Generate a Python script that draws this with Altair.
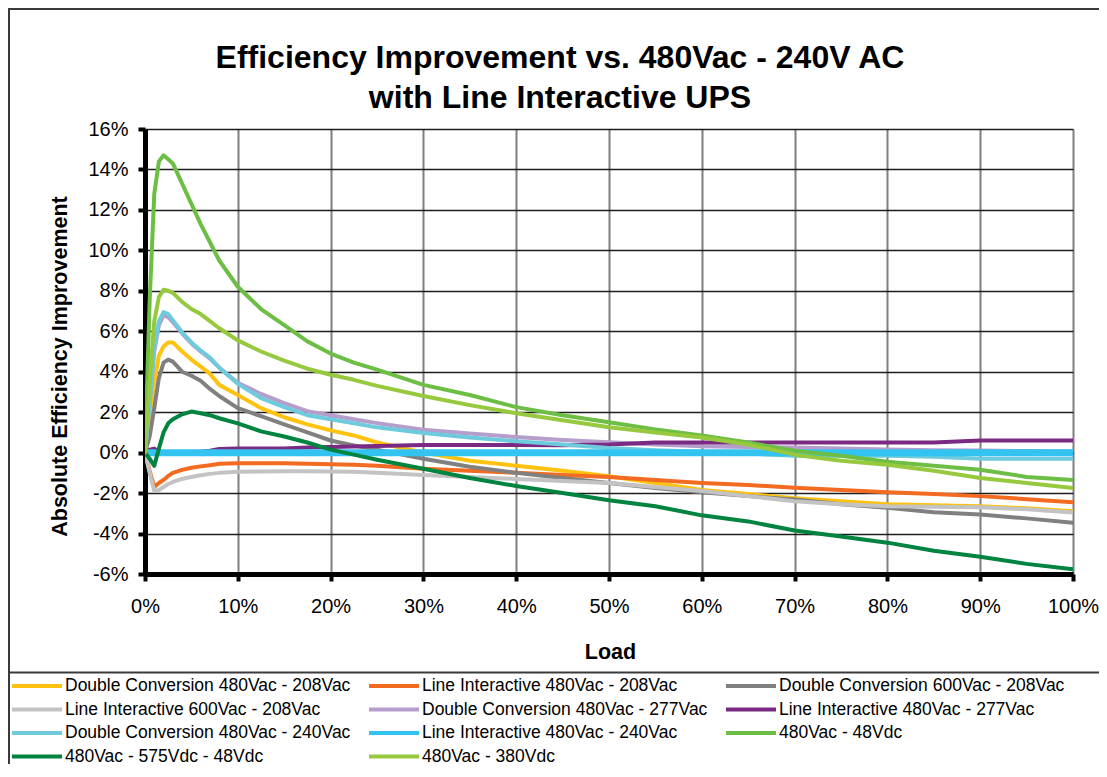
import altair as alt
import pandas as pd

# ---------------- data ----------------
load = [0, 0.5, 1, 1.5, 2, 2.5, 3, 4, 5, 6, 7, 8, 10, 12.5, 15, 17.5, 20, 22.5,
        25, 30, 35, 40, 45, 50, 55, 60, 65, 70, 75, 80, 85, 90, 95, 100]

series_names = [
    "Double Conversion 480Vac - 208Vac",
    "Line Interactive 480Vac - 208Vac",
    "Double Conversion 600Vac - 208Vac",
    "Line Interactive 600Vac - 208Vac",
    "Double Conversion 480Vac - 277Vac",
    "Line Interactive 480Vac - 277Vac",
    "Double Conversion 480Vac - 240Vac",
    "Line Interactive 480Vac - 240Vac",
    "480Vac - 48Vdc",
    "480Vac - 575Vdc - 48Vdc",
    "480Vac - 380Vdc",
]

dc_480_208 = [0, 1.5, 3.5, 4.8, 5.25, 5.45, 5.45, 5.0, 4.6, 4.25, 3.9, 3.35, 2.85, 2.2, 1.75, 1.4, 1.1,
              0.85, 0.5, 0.0, -0.4, -0.65, -0.9, -1.17, -1.5, -1.85, -2.05, -2.25, -2.4, -2.55,
              -2.6, -2.65, -2.75, -2.9]
li_480_208 = [0, -0.9, -1.7, -1.5, -1.35, -1.15, -1.0, -0.85, -0.75, -0.68, -0.62, -0.55, -0.52,
              -0.52, -0.53, -0.55, -0.58, -0.6, -0.65, -0.8, -0.9, -1.0, -1.1, -1.2, -1.35, -1.5,
              -1.6, -1.74, -1.85, -1.96, -2.05, -2.15, -2.3, -2.45]
dc_600_208 = [0, 0.8, 2.2, 3.7, 4.45, 4.6, 4.5, 4.0, 3.8, 3.55, 3.15, 2.8, 2.2, 1.8, 1.4, 1.0, 0.6,
              0.35, 0.15, -0.3, -0.7, -1.0, -1.25, -1.5, -1.75, -1.96, -2.15, -2.32, -2.55, -2.73,
              -2.95, -3.06, -3.25, -3.47]
li_600_208 = [0, -1.0, -1.9, -1.85, -1.7, -1.55, -1.45, -1.3, -1.2, -1.12, -1.05, -1.0, -0.95,
              -0.93, -0.92, -0.92, -0.93, -0.95, -1.0, -1.1, -1.2, -1.3, -1.4, -1.5, -1.7, -1.9,
              -2.15, -2.4, -2.55, -2.65, -2.68, -2.7, -2.8, -2.96]
dc_480_277 = [0, 2.4, 5.0, 6.3, 6.8, 6.7, 6.45, 5.9, 5.4, 5.0, 4.65, 4.2, 3.45, 2.9, 2.45, 2.05,
              1.85, 1.65, 1.46, 1.13, 0.95, 0.77, 0.62, 0.51, 0.4, 0.31, 0.28, 0.25, 0.2, 0.15,
              0.12, 0.1, 0.08, 0.05]
li_480_277 = [0, 0.15, 0.2, 0.05, 0, 0, 0, 0, 0, 0.05, 0.1, 0.18, 0.2, 0.2, 0.2, 0.25, 0.28, 0.3,
              0.33, 0.38, 0.38, 0.38, 0.36, 0.4, 0.5, 0.5, 0.5, 0.5, 0.5, 0.5, 0.5, 0.6, 0.6, 0.6]
dc_480_240 = [0, 2.5, 5.2, 6.5, 6.95, 6.85, 6.55, 5.95, 5.45, 5.05, 4.7, 4.2, 3.4, 2.7, 2.25, 1.85,
              1.65, 1.45, 1.25, 0.97, 0.75, 0.56, 0.4, 0.23, 0.12, 0.05, -0.05, -0.15, -0.15,
              -0.15, -0.2, -0.3, -0.3, -0.3]
li_480_240 = [0, 0, 0, 0, 0, 0, 0, 0, 0, 0, 0, 0, 0, 0, 0, 0, 0, 0,
              0, 0, 0, 0, 0, 0, 0, 0, 0, 0, 0, 0, 0, 0, 0, 0]
vdc_48 = [0, 7.5, 12.8, 14.4, 14.7, 14.5, 14.3, 13.3, 12.3, 11.3, 10.4, 9.5, 8.2, 7.1, 6.3, 5.5,
          4.9, 4.45, 4.1, 3.35, 2.85, 2.25, 1.85, 1.5, 1.15, 0.85, 0.5, 0.1, -0.15, -0.45, -0.65,
          -0.85, -1.2, -1.35]
vdc_575 = [0, -0.3, -0.65, 0.2, 1.0, 1.45, 1.65, 1.9, 2.03, 1.95, 1.85, 1.7, 1.45, 1.05, 0.8, 0.5,
           0.15, -0.1, -0.35, -0.8, -1.25, -1.65, -2.0, -2.35, -2.65, -3.1, -3.4, -3.85, -4.15,
           -4.45, -4.85, -5.15, -5.5, -5.77]
vdc_380 = [0, 3.5, 6.5, 7.7, 8.05, 8.0, 7.9, 7.45, 7.1, 6.85, 6.5, 6.15, 5.55, 5.0, 4.55, 4.15,
           3.85, 3.6, 3.3, 2.8, 2.35, 1.95, 1.6, 1.25, 1.0, 0.75, 0.4, -0.1, -0.4, -0.6, -0.9,
           -1.25, -1.5, -1.75]

series_values = [dc_480_208, li_480_208, dc_600_208, li_600_208, dc_480_277, li_480_277,
                 dc_480_240, li_480_240, vdc_48, vdc_575, vdc_380]

series_colors = ["#FFC20E", "#F26B21", "#808080", "#C3C3C3", "#B59DCC", "#7A2A82",
                 "#6DCBDD", "#33C3F0", "#6DBE45", "#00843F", "#96C93D"]
series_widths = [4, 4, 4, 4, 4, 4, 4, 7, 4, 4, 4]

title_lines = ["Efficiency Improvement vs. 480Vac - 240V AC", "with Line Interactive UPS"]

x_ticks = [0, 10, 20, 30, 40, 50, 60, 70, 80, 90, 100]
y_ticks = [-6, -4, -2, 0, 2, 4, 6, 8, 10, 12, 14, 16]

rows = []
for name, vals, w in zip(series_names, series_values, series_widths):
    for x, v in zip(load, vals):
        rows.append({"series": name, "load": x, "value": v, "lw": w})
df = pd.DataFrame(rows)

# the legend grid is filled column by column: reorder so rows read like the reference
ncol = 3
nrow = -(-len(series_names) // ncol)
legend_order = [series_names[r * ncol + c] for c in range(ncol) for r in range(nrow)
                if r * ncol + c < len(series_names)]
color_of = dict(zip(series_names, series_colors))

FONT = "Liberation Sans"
W, H = 928, 445

legend = alt.Legend(orient="none", legendX=-135, legendY=547, columns=ncol,
                    title=None, symbolType="stroke", symbolSize=2500, symbolStrokeWidth=4,
                    clipHeight=20, rowPadding=3.5, columnPadding=16,
                    labelFontSize=17.5, labelFont=FONT, labelColor="#000000",
                    labelOffset=1, labelLimit=0, symbolOffset=0)

lines = alt.Chart(df).mark_line(strokeJoin="round", strokeCap="round", clip=True).encode(
    x=alt.X("load:Q", scale=alt.Scale(domain=[0, 100], nice=False),
            axis=alt.Axis(values=x_ticks, labelExpr="datum.value + '%'", title="Load",
                          gridColor="#7F7F7F", gridWidth=2, titleX=W / 2 + 1, titleY=78,
                          titleBaseline="middle", labelPadding=15, labelFlush=False)),
    y=alt.Y("value:Q", scale=alt.Scale(domain=[-6, 16], nice=False),
            axis=alt.Axis(values=y_ticks, labelExpr="datum.value + '%'",
                          title="Absolute Efficiency Improvement",
                          gridColor="#1E1E1E", gridWidth=1.5, titleX=-85, titleY=237,
                          titleBaseline="middle", labelPadding=10)),
    color=alt.Color("series:N", sort=legend_order,
                    scale=alt.Scale(domain=legend_order,
                                    range=[color_of[s] for s in legend_order]),
                    legend=legend),
    strokeWidth=alt.StrokeWidth("lw:Q", scale=None, legend=None),
    order=alt.Order("load:Q"),
)

one = pd.DataFrame({"k": [0]})
frame = alt.Chart(one).mark_rect(filled=False, stroke="#3A3A3A", strokeWidth=2, clip=False).encode(
    x=alt.value(-136), x2=alt.value(1300), y=alt.value(-120), y2=alt.value(543.5)
)
frame_low = alt.Chart(one).mark_rule(stroke="#3A3A3A", strokeWidth=2, clip=False).encode(
    x=alt.value(-136), y=alt.value(543.5), y2=alt.value(900)
)
title1 = alt.Chart(one).mark_text(font=FONT, fontSize=32, fontWeight="bold", color="#000000",
                                  align="center", baseline="middle").encode(
    x=alt.value(415), y=alt.value(-71), text=alt.value(title_lines[0]))
title2 = alt.Chart(one).mark_text(font=FONT, fontSize=32, fontWeight="bold", color="#000000",
                                  align="center", baseline="middle").encode(
    x=alt.value(415), y=alt.value(-31), text=alt.value(title_lines[1]))

chart = alt.layer(frame, frame_low, title1, title2, lines).properties(
    width=W, height=H,
    background="#FFFFFF",
    autosize=alt.AutoSizeParams(type="none"),
    padding={"left": 137, "top": 121, "right": 26, "bottom": 190},
).configure_view(stroke=None).configure_axis(
    labelFont=FONT, labelFontSize=20, labelColor="#000000",
    titleFont=FONT, titleFontSize=21.5, titleFontWeight="bold", titleColor="#000000",
    domainColor="#000000", domainWidth=5, tickColor="#000000", tickWidth=4, tickSize=7,
)

chart.save("out.html", embed_options={"renderer": "svg", "actions": False})
